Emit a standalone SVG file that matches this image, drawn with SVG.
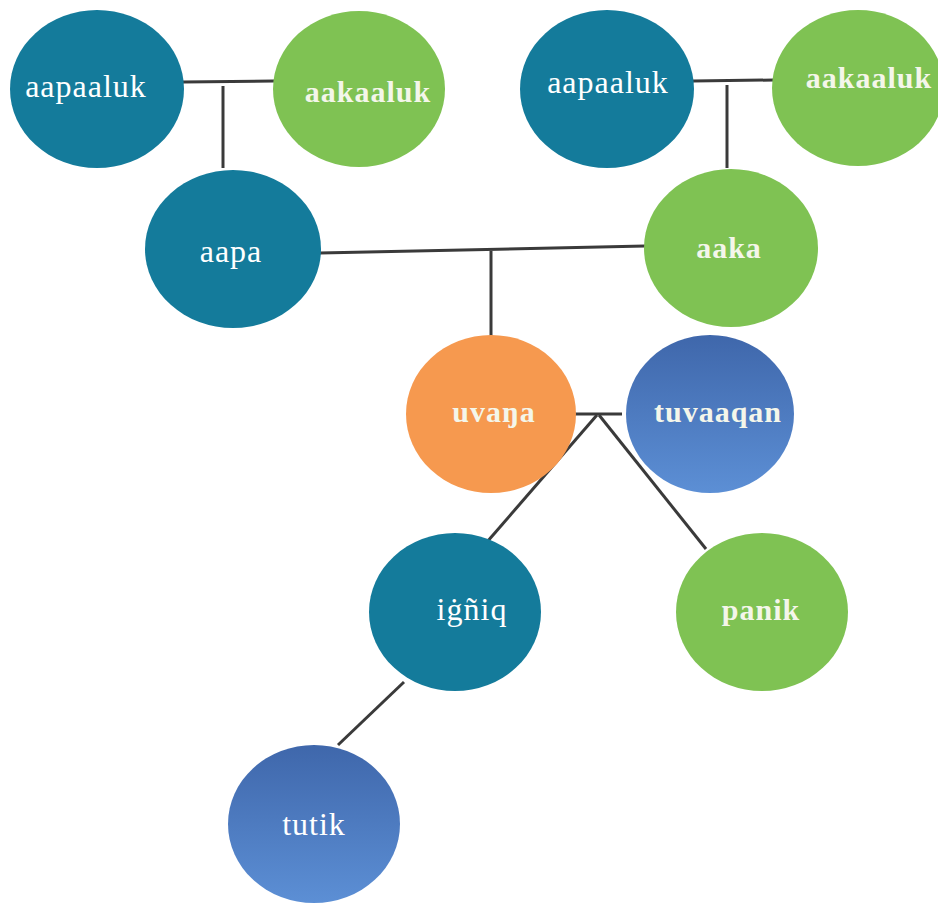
<svg xmlns="http://www.w3.org/2000/svg" width="938" height="903" viewBox="0 0 938 903">
<style>
.teal{fill:#147b9b}
.green{fill:#7fc253}
.orange{fill:#f6994f}
.blue{fill:url(#bg)}
.lbl{font-family:"Liberation Serif","DejaVu Serif",serif;font-size:32px;fill:#ffffff;text-anchor:middle;letter-spacing:1px}
.lb{font-family:"Liberation Serif","DejaVu Serif",serif;font-size:30px;font-weight:bold;fill:#f4f6ea;text-anchor:middle;letter-spacing:1px}
.conn line{stroke:#3a3a3a;stroke-width:3;fill:none}
</style>
<defs>
<linearGradient id="bg" x1="0" y1="0" x2="0" y2="1">
<stop offset="0" stop-color="#3f67ab"/>
<stop offset="1" stop-color="#5c8fd5"/>
</linearGradient>
</defs>
<rect width="938" height="903" fill="#ffffff"/>
<g class="conn">
<line x1="183" y1="82" x2="274" y2="81"/>
<line x1="223" y1="86" x2="223" y2="168"/>
<line x1="693" y1="81" x2="774" y2="80"/>
<line x1="727" y1="85" x2="727" y2="168"/>
<line x1="320" y1="253" x2="645" y2="246"/>
<line x1="491" y1="251" x2="491" y2="336"/>
<line x1="574" y1="414" x2="622" y2="414"/>
<line x1="597" y1="415" x2="487" y2="542"/>
<line x1="599" y1="415" x2="706" y2="549"/>
<line x1="404" y1="682" x2="338" y2="745"/>
</g>
<g id="aapaaluk1"><ellipse class="teal" cx="97" cy="89" rx="87" ry="79"/><text class="lbl" x="86" y="97">aapaaluk</text></g>
<g id="aakaaluk1"><ellipse class="green" cx="359" cy="89" rx="86" ry="78"/><text class="lb" x="368" y="102">aakaaluk</text></g>
<g id="aapaaluk2"><ellipse class="teal" cx="607" cy="89" rx="87" ry="79"/><text class="lbl" x="608" y="93">aapaaluk</text></g>
<g id="aakaaluk2"><ellipse class="green" cx="858" cy="88" rx="86" ry="78"/><text class="lb" x="869" y="88">aakaaluk</text></g>
<g id="aapa"><ellipse class="teal" cx="233" cy="249" rx="88" ry="79"/><text class="lbl" x="231" y="262">aapa</text></g>
<g id="aaka"><ellipse class="green" cx="731" cy="248" rx="87" ry="79"/><text class="lb" x="729" y="258">aaka</text></g>
<g id="uvana"><ellipse class="orange" cx="491" cy="414" rx="85" ry="79"/><text class="lb" x="494" y="422">uvaŋa</text></g>
<g id="tuvaaqan"><ellipse class="blue" cx="710" cy="414" rx="84" ry="79"/><text class="lb" x="718" y="422">tuvaaqan</text></g>
<g id="ignik"><ellipse class="teal" cx="455" cy="612" rx="86" ry="79"/><text class="lbl" x="472" y="620">iġñiq</text></g>
<g id="panik"><ellipse class="green" cx="762" cy="612" rx="86" ry="79"/><text class="lb" x="761" y="620">panik</text></g>
<g id="tutik"><ellipse class="blue" cx="314" cy="824" rx="86" ry="79"/><text class="lbl" x="314" y="835">tutik</text></g>
</svg>
